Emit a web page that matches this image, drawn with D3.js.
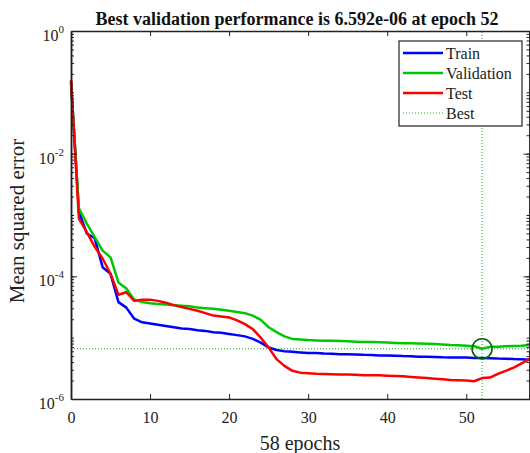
<!DOCTYPE html>
<html>
<head>
<meta charset="utf-8">
<script src="https://cdn.jsdelivr.net/npm/d3@7"></script>
<style>
  body { margin: 0; background: #fff; }
  svg { display: block; font-family: "Liberation Serif", "Times New Roman", serif; }
</style>
</head>
<body>
<svg id="chart" width="530" height="453"></svg>
<script>
// epochs 0..58
const epochs = d3.range(0, 59);

const trainPerf = [
  0.151, 1.12e-3, 5.0e-4, 4.17e-4, 1.41e-4, 1.10e-4, 3.80e-5, 3.09e-5, 2.04e-5, 1.78e-5,
  1.70e-5, 1.62e-5, 1.55e-5, 1.48e-5, 1.41e-5, 1.38e-5, 1.32e-5, 1.29e-5, 1.23e-5, 1.20e-5,
  1.15e-5, 1.10e-5, 1.05e-5, 9.55e-6, 8.32e-6, 6.92e-6, 6.31e-6, 6.03e-6, 5.89e-6, 5.75e-6,
  5.62e-6, 5.60e-6, 5.50e-6, 5.48e-6, 5.37e-6, 5.35e-6, 5.33e-6, 5.25e-6, 5.22e-6, 5.13e-6,
  5.10e-6, 5.08e-6, 5.01e-6, 4.98e-6, 4.90e-6, 4.88e-6, 4.85e-6, 4.79e-6, 4.77e-6, 4.75e-6,
  4.73e-6, 4.68e-6, 4.66e-6, 4.63e-6, 4.57e-6, 4.55e-6, 4.47e-6, 4.44e-6, 4.37e-6
];

const valPerf = [
  0.141, 1.29e-3, 7.24e-4, 4.37e-4, 2.63e-4, 2.04e-4, 7.94e-5, 6.31e-5, 4.17e-5, 3.80e-5,
  3.63e-5, 3.55e-5, 3.47e-5, 3.39e-5, 3.31e-5, 3.24e-5, 3.09e-5, 3.02e-5, 2.95e-5, 2.85e-5,
  2.75e-5, 2.63e-5, 2.51e-5, 2.29e-5, 1.95e-5, 1.48e-5, 1.23e-5, 1.05e-5, 9.55e-6, 9.33e-6,
  9.12e-6, 9.02e-6, 8.91e-6, 8.88e-6, 8.81e-6, 8.71e-6, 8.61e-6, 8.51e-6, 8.48e-6, 8.41e-6,
  8.32e-6, 8.22e-6, 8.13e-6, 8.10e-6, 8.04e-6, 7.94e-6, 7.85e-6, 7.76e-6, 7.59e-6, 7.50e-6,
  7.41e-6, 7.24e-6, 6.592e-6, 7.08e-6, 7.08e-6, 7.24e-6, 7.33e-6, 7.41e-6, 7.59e-6
];

const testPerf = [
  0.158, 8.71e-4, 5.25e-4, 3.02e-4, 1.95e-4, 1.10e-4, 5.01e-5, 5.50e-5, 3.98e-5, 4.17e-5,
  4.17e-5, 3.98e-5, 3.72e-5, 3.39e-5, 3.16e-5, 2.95e-5, 2.75e-5, 2.51e-5, 2.29e-5, 2.21e-5,
  2.14e-5, 1.91e-5, 1.66e-5, 1.38e-5, 1.00e-5, 6.92e-6, 4.47e-6, 3.47e-6, 2.88e-6, 2.69e-6,
  2.63e-6, 2.57e-6, 2.55e-6, 2.54e-6, 2.51e-6, 2.50e-6, 2.48e-6, 2.45e-6, 2.44e-6, 2.43e-6,
  2.40e-6, 2.37e-6, 2.34e-6, 2.29e-6, 2.24e-6, 2.19e-6, 2.14e-6, 2.09e-6, 2.04e-6, 2.02e-6,
  2.00e-6, 1.95e-6, 2.19e-6, 2.24e-6, 2.57e-6, 2.88e-6, 3.24e-6, 3.80e-6, 4.47e-6
];

const bestEpoch = 52;
const bestPerf = 6.592e-6;

const xTicks = [0, 10, 20, 30, 40, 50];
const yMajor = [1e0, 1e-2, 1e-4, 1e-6];
const yExponents = ["0", "-2", "-4", "-6"];

const legendNames = ["Train", "Validation", "Test", "Best"];

const titleText = "Best validation performance is 6.592e-06 at epoch 52";
const xLabel = "58 epochs";
const yLabel = "Mean squared error";

const svg = d3.select("#chart");
const margin = { top: 31, right: 0.5, bottom: 54, left: 71 };
const W = 530, H = 453;

const x = d3.scaleLinear().domain([0, 58]).range([margin.left, W - margin.right]);
const y = d3.scaleLog().domain([1e-6, 1]).range([H - margin.bottom, margin.top]);

const colors = { train: "#0000ff", val: "#00c800", test: "#ff0000", best: "#22aa22" };

// best lines (dotted)
svg.append("line")
  .attr("x1", x(0)).attr("x2", x(58))
  .attr("y1", y(bestPerf)).attr("y2", y(bestPerf))
  .attr("stroke", colors.best).attr("stroke-width", 1)
  .attr("stroke-dasharray", "1,2");
svg.append("line")
  .attr("x1", x(bestEpoch)).attr("x2", x(bestEpoch))
  .attr("y1", y(1e-6)).attr("y2", y(1))
  .attr("stroke", colors.best).attr("stroke-width", 1)
  .attr("stroke-dasharray", "1,2");

const line = d3.line()
  .x((d, i) => x(epochs[i]))
  .y(d => y(d));

[[trainPerf, colors.train], [valPerf, colors.val], [testPerf, colors.test]].forEach(([data, c]) => {
  svg.append("path")
    .datum(data)
    .attr("fill", "none")
    .attr("stroke", c)
    .attr("stroke-width", 2.5)
    .attr("stroke-linejoin", "round")
    .attr("d", line);
});

// best circle
svg.append("circle")
  .attr("cx", x(bestEpoch)).attr("cy", y(bestPerf))
  .attr("r", 10)
  .attr("fill", "none")
  .attr("stroke", "#006400")
  .attr("stroke-width", 1.6);

// axes
const axisColor = "#222";
const gx = svg.append("g")
  .attr("transform", `translate(0,${y(1e-6)})`)
  .call(d3.axisBottom(x).tickValues(xTicks).tickSize(-5).tickSizeOuter(0).tickPadding(13));
const gxTop = svg.append("g")
  .attr("transform", `translate(0,${y(1)})`)
  .call(d3.axisTop(x).tickValues(xTicks).tickSize(-5).tickSizeOuter(0).tickFormat(""));

const minorTicks = y.ticks();
const gyMinor = svg.append("g")
  .attr("transform", `translate(${x(0)},0)`)
  .call(d3.axisLeft(y).tickValues(minorTicks).tickSize(-3).tickSizeOuter(0).tickFormat(""));
const gy = svg.append("g")
  .attr("transform", `translate(${x(0)},0)`)
  .call(d3.axisLeft(y).tickValues(yMajor).tickSize(-6).tickSizeOuter(0).tickFormat(""));
const gyR = svg.append("g")
  .attr("transform", `translate(${x(58)},0)`)
  .call(d3.axisRight(y).tickValues(minorTicks).tickSize(-3).tickSizeOuter(0).tickFormat(""));
const gyR2 = svg.append("g")
  .attr("transform", `translate(${x(58)},0)`)
  .call(d3.axisRight(y).tickValues(yMajor).tickSize(-6).tickSizeOuter(0).tickFormat(""));

[gx, gxTop, gyMinor, gy, gyR, gyR2].forEach(g => {
  g.selectAll("path").attr("stroke", axisColor).attr("stroke-width", 1.5);
  g.selectAll("line").attr("stroke", axisColor).attr("stroke-width", 1);
});
gx.selectAll("text")
  .attr("fill", "#222")
  .style("font-family", "Liberation Serif")
  .style("font-size", "16px");

// y tick labels 10^n
yMajor.forEach((v, i) => {
  const t = svg.append("text")
    .attr("x", 64)
    .attr("y", y(v) + 10)
    .attr("text-anchor", "end")
    .attr("fill", "#222")
    .style("font-size", "16px");
  t.append("tspan").text("10");
  t.append("tspan").attr("dy", -8).style("font-size", "11px").text(yExponents[i]);
});

// title
svg.append("text")
  .attr("x", 297).attr("y", 25)
  .attr("text-anchor", "middle")
  .style("font-size", "18px")
  .style("font-weight", "bold")
  .attr("fill", "#111")
  .text(titleText);

// x label
svg.append("text")
  .attr("x", 300).attr("y", 450)
  .attr("text-anchor", "middle")
  .style("font-size", "20px")
  .attr("fill", "#222")
  .text(xLabel);

// y label
svg.append("text")
  .attr("transform", "translate(24,221) rotate(-90)")
  .attr("text-anchor", "middle")
  .style("font-size", "21px")
  .attr("fill", "#222")
  .text(yLabel);

// legend
const lg = svg.append("g").attr("transform", "translate(399,41)");
lg.append("rect")
  .attr("width", 123).attr("height", 85)
  .attr("fill", "#fff")
  .attr("stroke", "#222").attr("stroke-width", 1.2);
const legendStyles = [
  { c: colors.train, w: 2.5, dash: null },
  { c: colors.val, w: 2.5, dash: null },
  { c: colors.test, w: 2.5, dash: null },
  { c: colors.best, w: 1, dash: "1,2" }
];
legendNames.forEach((name, i) => {
  const cy = 12 + i * 20;
  lg.append("line")
    .attr("x1", 4).attr("x2", 44)
    .attr("y1", cy).attr("y2", cy)
    .attr("stroke", legendStyles[i].c)
    .attr("stroke-width", legendStyles[i].w)
    .attr("stroke-dasharray", legendStyles[i].dash);
  lg.append("text")
    .attr("x", 47).attr("y", cy + 5.5)
    .style("font-size", "16px")
    .attr("fill", "#222")
    .text(name);
});
</script>
</body>
</html>
